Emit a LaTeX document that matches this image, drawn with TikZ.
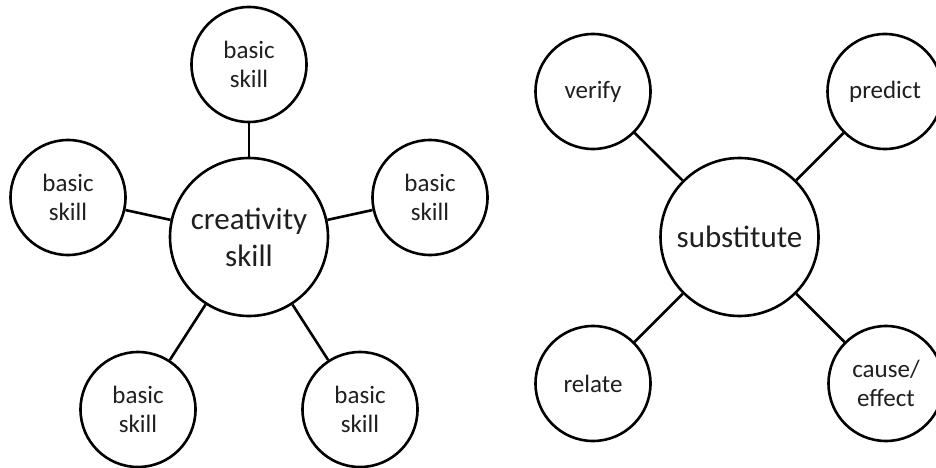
\documentclass[tikz,border=0pt]{standalone}
\usepackage{fontspec}
\setmainfont{Carlito}
\begin{document}
\begin{tikzpicture}[x=1pt,y=-1pt,
  small/.style={circle,draw=black,line width=2.6pt,minimum size=115pt,inner sep=0pt,
    align=center,text=black!88,font=\fontsize{25}{29}\selectfont},
  hub/.style={circle,draw=black,line width=2.6pt,minimum size=158pt,inner sep=0pt,
    align=center,text=black!88,font=\fontsize{31}{37}\selectfont},
  link/.style={line width=2.6pt,black}]
\useasboundingbox (0,0) rectangle (936,468);

% creativity skill web
\node[hub]   (cs) at (249,237) {creativity\\skill};
\node[small] (b1) at (249,64.5) {basic\\skill};
\node[small] (b2) at (68,197.5) {basic\\skill};
\node[small] (b3) at (430,197.5) {basic\\skill};
\node[small] (b4) at (138,409.5) {basic\\skill};
\node[small] (b5) at (360,409.5) {basic\\skill};
\foreach \n in {b1,b2,b3,b4,b5} \draw[link] (cs) -- (\n);

% substitute web
\node[hub]   (sub) at (739.5,237) {substitute};
\node[small] (ver) at (593,91.5) {verify};
\node[small] (pre) at (885,91.5) {predict};
\node[small] (rel) at (593,383.5) {relate};
\node[small] (cau) at (886,383.5) {cause/\\effect};
\foreach \n in {ver,pre,rel,cau} \draw[link] (sub) -- (\n);
\end{tikzpicture}
\end{document}
